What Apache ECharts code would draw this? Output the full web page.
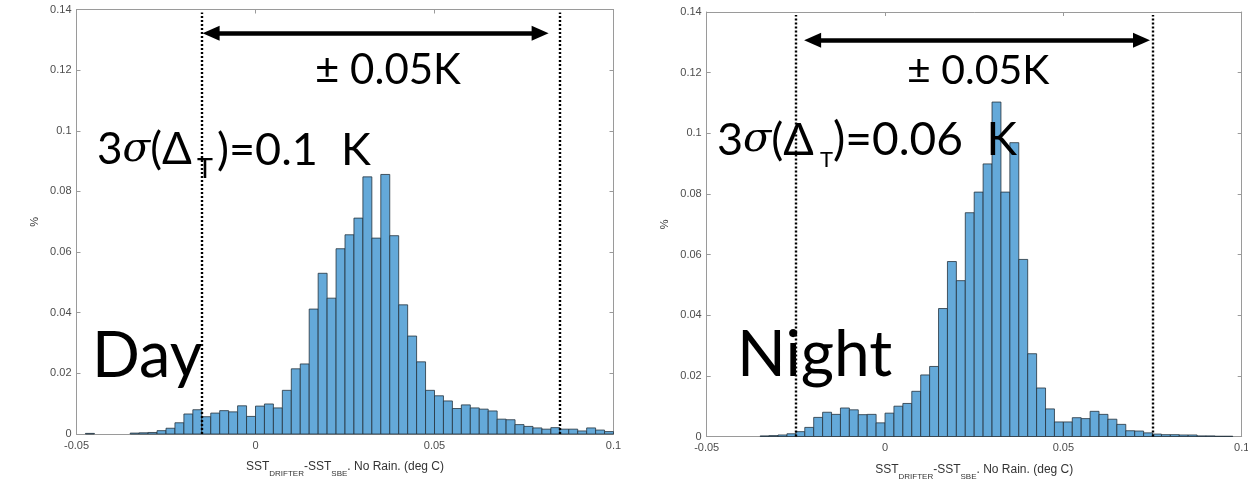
<!DOCTYPE html>
<html>
<head>
<meta charset="utf-8">
<script src="https://cdn.jsdelivr.net/npm/echarts@6/dist/echarts.min.js"></script>
<style>
html, body { margin: 0; padding: 0; background: #fff; }
#chart { width: 1248px; height: 485px; }
</style>
</head>
<body>
<div id="chart"></div>
<script>
// histogram bins: left edge of first bin and width (deg C)
var binStart = -0.05;
var binWidth = 0.0025;

// % per bin, day
var dayPct = [
    0, 0.0002, 0, 0, 0, 0, 0.0003, 0.0004, 0.0005, 0.0011,
    0.0019, 0.0037, 0.0066, 0.0080, 0.0057, 0.0069, 0.0077, 0.0073, 0.0093, 0.0058,
    0.0092, 0.0099, 0.0086, 0.0144, 0.0215, 0.0231, 0.0412, 0.0530, 0.0448, 0.0611,
    0.0657, 0.0712, 0.0848, 0.0646, 0.0856, 0.0654, 0.0426, 0.0323, 0.0238, 0.0144,
    0.0126, 0.0109, 0.0084, 0.0096, 0.0086, 0.0082, 0.0076, 0.0049, 0.0047, 0.0031,
    0.0025, 0.0020, 0.0016, 0.0021, 0.0016, 0.0016, 0.0010, 0.0020, 0.0013, 0.0008
];

// % per bin, night
var nightPct = [
    0, 0, 0, 0, 0, 0, 0.0002, 0.0003, 0.0005, 0.0009,
    0.0016, 0.0030, 0.0063, 0.0080, 0.0073, 0.0094, 0.0088, 0.0072, 0.0073, 0.0045,
    0.0077, 0.0100, 0.0109, 0.0149, 0.0203, 0.0231, 0.0422, 0.0577, 0.0514, 0.0738,
    0.0806, 0.0899, 0.1103, 0.0806, 0.0969, 0.0584, 0.0273, 0.0160, 0.0091, 0.0048,
    0.0048, 0.0062, 0.0059, 0.0083, 0.0073, 0.0057, 0.0040, 0.0019, 0.0018, 0.0012,
    0.0008, 0.0006, 0.0006, 0.0005, 0.0005, 0.0002, 0.0002, 0.0001, 0.0001, 0
];

// dotted limits and arrow ends (deg C), arrow height (%)
var dayLimits = [-0.015, 0.085];
var nightLimits = [-0.025, 0.075];
var dayArrow = [-0.0124, 0.0795, 0.1322];
var nightArrow = [-0.0203, 0.0719, 0.1307];

var xName = 'SST{sub|DRIFTER}-SST{sub|SBE}. No Rain. (deg C)';
var axisGray = '#9a9a9a';
var labelGray = '#4d4d4d';

function toBins(pct) {
    var rows = [];
    for (var i = 0; i < pct.length; i++) {
        rows.push([binStart + i * binWidth, binStart + (i + 1) * binWidth, pct[i]]);
    }
    return rows;
}

function renderBar(params, api) {
    var h = api.value(2);
    if (!h) return null;
    var p0 = api.coord([api.value(0), h]);
    var p1 = api.coord([api.value(1), 0]);
    return {
        type: 'rect',
        shape: { x: p0[0], y: p0[1], width: p1[0] - p0[0], height: p1[1] - p0[1] },
        style: { fill: '#64a9d9', stroke: '#25323c', lineWidth: 0.8 }
    };
}

function limitLines(limits, arrow) {
    var dot = { color: '#000', width: 2.4, type: [2, 2] };
    var top = 0.139;
    return {
        silent: true,
        animation: false,
        label: { show: false },
        symbol: 'none',
        data: [
            [{ coord: [limits[0], 0], lineStyle: dot }, { coord: [limits[0], top] }],
            [{ coord: [limits[1], 0], lineStyle: dot }, { coord: [limits[1], top] }],
            [
                { coord: [arrow[0], arrow[2]], symbol: 'triangle', symbolSize: [15, 17],
                  lineStyle: { color: '#000', width: 4.5, type: 'solid' } },
                { coord: [arrow[1], arrow[2]], symbol: 'triangle', symbolSize: [15, 17] }
            ]
        ]
    };
}

function xAxisOf(grid, bottom) {
    return {
        type: 'value', gridIndex: grid, position: bottom ? 'bottom' : 'top',
        min: -0.05, max: 0.1, interval: 0.05,
        name: bottom ? xName : '', nameLocation: 'middle', nameGap: 18,
        nameTextStyle: {
            color: '#333', fontFamily: 'Liberation Sans', fontSize: 12, lineHeight: 22,
            rich: { sub: { fontSize: 8, fontFamily: 'Liberation Sans', color: '#333',
                           lineHeight: 14, verticalAlign: 'bottom' } }
        },
        axisLine: { show: true, onZero: false, lineStyle: { color: axisGray, width: 1 } },
        axisTick: { show: true, inside: true, length: 4, lineStyle: { color: axisGray } },
        axisLabel: { show: bottom, margin: 6, color: labelGray, fontSize: 11, fontFamily: 'Liberation Sans' },
        splitLine: { show: false }
    };
}

function yAxisOf(grid, left) {
    return {
        type: 'value', gridIndex: grid, position: left ? 'left' : 'right',
        min: 0, max: 0.14, interval: 0.02,
        name: left ? '%' : '', nameLocation: 'middle', nameGap: 36,
        nameTextStyle: { color: '#333', fontSize: 11, fontFamily: 'Liberation Sans' },
        axisLine: { show: true, onZero: false, lineStyle: { color: axisGray, width: 1 } },
        axisTick: { show: true, inside: true, length: 4, lineStyle: { color: axisGray } },
        axisLabel: { show: left, margin: 5, color: labelGray, fontSize: 11, fontFamily: 'Liberation Sans' },
        splitLine: { show: false }
    };
}

function bigText(x, y, text, size, extra) {
    var style = { text: text, font: size + 'px Lato', fill: '#000',
                  align: 'left', verticalAlign: 'middle', lineHeight: size + 6 };
    if (extra) style.rich = extra;
    return { type: 'text', x: x, y: y, z: 100, silent: true, style: style };
}

var sigma = function (size) {
    return { s: { fontFamily: 'DejaVu Serif', fontStyle: 'italic', fontSize: size * 0.92, lineHeight: size + 6 } };
};

var chart = echarts.init(document.getElementById('chart'));
chart.setOption({
    animation: false,
    backgroundColor: '#fff',
    grid: [
        { left: 76.5, top: 9.5, width: 537, height: 424.5, outerBoundsMode: 'none' },
        { left: 706.7, top: 12, width: 535, height: 424.5, outerBoundsMode: 'none' }
    ],
    xAxis: [xAxisOf(0, true), xAxisOf(1, true), xAxisOf(0, false), xAxisOf(1, false)],
    yAxis: [yAxisOf(0, true), yAxisOf(1, true), yAxisOf(0, false), yAxisOf(1, false)],
    series: [
        {
            name: 'Day', type: 'custom', xAxisIndex: 0, yAxisIndex: 0,
            renderItem: renderBar, encode: { x: [0, 1], y: 2 },
            data: toBins(dayPct),
            markLine: limitLines(dayLimits, dayArrow)
        },
        {
            name: 'Night', type: 'custom', xAxisIndex: 1, yAxisIndex: 1,
            renderItem: renderBar, encode: { x: [0, 1], y: 2 },
            data: toBins(nightPct),
            markLine: limitLines(nightLimits, nightArrow)
        }
    ],
    graphic: [
        bigText(315, 70, '± 0.05K', 42),
        bigText(97, 150, '3{s|σ}(Δ', 44, sigma(44)),
        bigText(197, 169, 'T', 27),
        bigText(217, 150, ')=0.1  K', 45),
        bigText(92, 357, 'Day', 63),
        bigText(907, 71, '± 0.05K', 41),
        bigText(717, 140, '3{s|σ}(Δ', 45, sigma(45)),
        bigText(820, 160, 'T', 22),
        bigText(833, 140, ')=0.06  K', 46),
        bigText(737, 355, 'Night', 64)
    ]
});
</script>
</body>
</html>
